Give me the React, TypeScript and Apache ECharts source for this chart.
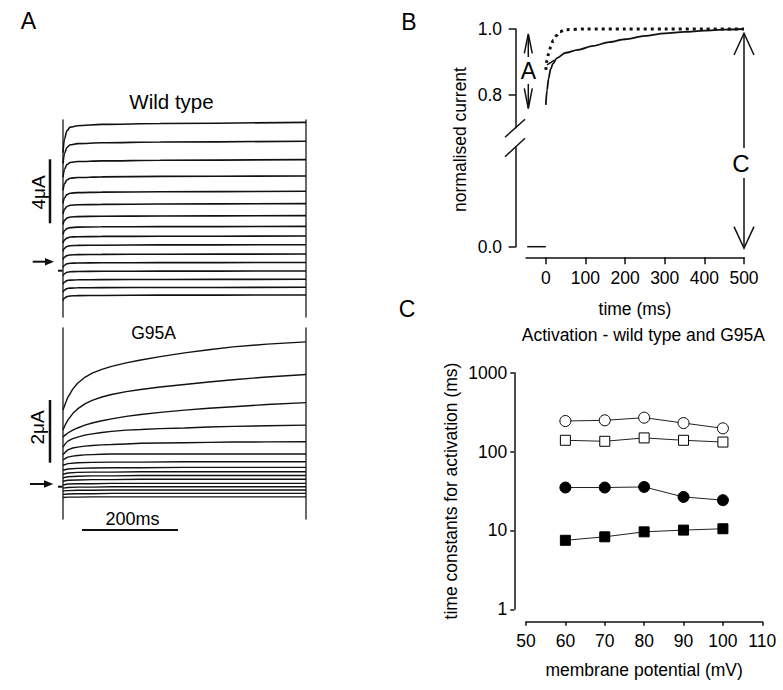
import React, { useEffect, useRef } from "react";
import * as echarts from "echarts";

// ---------- Panel A : current traces (µA) ----------
const WT_TIMES = [0, 3, 8, 15, 30, 80, 200, 500];
const WT_TRACES = [
  [6.86, 7.72, 8.23, 8.46, 8.55, 8.63, 8.69, 8.76],
  [6.18, 6.81, 7.19, 7.36, 7.43, 7.48, 7.53, 7.58],
  [5.33, 5.83, 6.12, 6.25, 6.31, 6.35, 6.39, 6.43],
  [4.51, 4.92, 5.16, 5.27, 5.31, 5.35, 5.38, 5.41],
  [3.7, 4.04, 4.24, 4.33, 4.37, 4.4, 4.42, 4.45],
  [3.03, 3.32, 3.5, 3.58, 3.61, 3.63, 3.66, 3.68],
  [2.38, 2.63, 2.78, 2.84, 2.87, 2.89, 2.91, 2.93],
  [1.76, 1.99, 2.12, 2.18, 2.21, 2.23, 2.24, 2.26],
  [1.21, 1.41, 1.53, 1.59, 1.61, 1.63, 1.64, 1.66],
  [0.71, 0.89, 1.0, 1.05, 1.07, 1.08, 1.1, 1.11],
  [0.18, 0.34, 0.43, 0.47, 0.49, 0.51, 0.52, 0.53],
  [-0.3, -0.17, -0.08, -0.05, -0.03, -0.02, -0.01, 0],
  [-0.83, -0.7, -0.61, -0.58, -0.56, -0.55, -0.54, -0.53],
  [-1.35, -1.22, -1.13, -1.1, -1.08, -1.07, -1.06, -1.05],
  [-1.85, -1.72, -1.63, -1.6, -1.58, -1.57, -1.56, -1.55],
  [-2.38, -2.22, -2.13, -2.09, -2.07, -2.06, -2.04, -2.03],
];

// G95A: traces that keep rising during the pulse
const G95A_TIMES_RISING = [0, 5, 10, 20, 30, 45, 60, 80, 100, 130, 160, 200, 250, 300, 350, 420, 500];
const G95A_RISING = [
  [2.36, 2.58, 2.77, 3.03, 3.22, 3.41, 3.54, 3.66, 3.76, 3.87, 3.96, 4.07, 4.19, 4.29, 4.38, 4.47, 4.54],
  [1.73, 1.9, 2.04, 2.25, 2.4, 2.56, 2.67, 2.78, 2.86, 2.95, 3.02, 3.1, 3.18, 3.26, 3.33, 3.42, 3.5],
  [1.5, 1.57, 1.63, 1.72, 1.79, 1.88, 1.95, 2.02, 2.08, 2.16, 2.22, 2.29, 2.36, 2.42, 2.47, 2.54, 2.6],
  [1.18, 1.29, 1.37, 1.45, 1.5, 1.56, 1.6, 1.645, 1.68, 1.72, 1.74, 1.77, 1.79, 1.82, 1.84, 1.86, 1.88],
  [0.93, 1.02, 1.09, 1.15, 1.18, 1.21, 1.23, 1.25, 1.26, 1.28, 1.3, 1.31, 1.32, 1.33, 1.34, 1.345, 1.35],
  [0.77, 0.82, 0.86, 0.89, 0.91, 0.93, 0.94, 0.95, 0.96, 0.96, 0.96, 0.96, 0.96, 0.96, 0.96, 0.96, 0.96],
];
// G95A: nearly flat traces
const G95A_TIMES_FLAT = [0, 10, 30, 60, 100, 160, 250, 350, 500];
const G95A_FLAT = [
  [0.6, 0.65, 0.68, 0.69, 0.7, 0.7, 0.71, 0.71, 0.71],
  [0.44, 0.48, 0.5, 0.51, 0.52, 0.52, 0.53, 0.53, 0.53],
  [0.31, 0.35, 0.37, 0.38, 0.38, 0.39, 0.39, 0.39, 0.39],
  [0.2, 0.23, 0.25, 0.26, 0.26, 0.27, 0.27, 0.27, 0.27],
  [0.09, 0.12, 0.13, 0.14, 0.14, 0.15, 0.15, 0.15, 0.15],
  [-0.03, 0.0, 0.01, 0.01, 0.02, 0.02, 0.02, 0.02, 0.02],
  [-0.13, -0.11, -0.1, -0.1, -0.09, -0.09, -0.09, -0.09, -0.09],
  [-0.22, -0.21, -0.2, -0.2, -0.19, -0.19, -0.19, -0.19, -0.19],
  [-0.33, -0.32, -0.31, -0.31, -0.3, -0.3, -0.3, -0.3, -0.3],
  [-0.43, -0.42, -0.42, -0.41, -0.41, -0.41, -0.41, -0.41, -0.41],
];

// ---------- Panel B : normalised current ----------
const DOT_T = [0, 3, 7, 12, 19, 27, 36, 50, 100, 200, 300, 400, 500];
const DOT_Y = [0.876, 0.905, 0.925, 0.945, 0.966, 0.98, 0.992, 0.998, 1.0, 1.0, 1.0, 1.0, 1.0];
const SOLID_T = [0, 3, 7, 12, 18, 28, 50, 80, 120, 160, 200, 250, 300, 350, 400, 450, 500];
const SOLID_Y = [0.77, 0.815, 0.85, 0.878, 0.895, 0.912, 0.928, 0.937, 0.949, 0.96, 0.969, 0.979, 0.987, 0.991, 0.995, 0.998, 1.0];
const HOOK_T = [3, 22];
const HOOK_Y = [0.891, 0.906];
const BASE_T = [-47, 0];
const BASE_Y = [0, 0];
const B_X_TICKS = [0, 100, 200, 300, 400, 500];
const B_Y_TICKS_UPPER = [0.8, 1.0];
const B_Y_TICKS_LOWER = [0];

// ---------- Panel C : time constants (ms) ----------
const VOLTAGES = [60, 70, 80, 90, 100];
const OPEN_CIRCLE = [244, 249, 269, 230, 197];
const OPEN_SQUARE = [139, 135, 149, 139, 132];
const FILLED_CIRCLE = [35, 35, 35.6, 26.6, 24.2];
const FILLED_SQUARE = [7.5, 8.3, 9.6, 10.1, 10.5];

const FONT = '"Liberation Sans", Arial, Helvetica, sans-serif';
const INK = "#111";

function txt(text: string, x: number, y: number, size: number, rotation = 0) {
  return {
    type: "text",
    x,
    y,
    rotation,
    silent: true,
    style: {
      text,
      fontSize: size,
      fontFamily: FONT,
      fill: "#000",
      align: "center",
      verticalAlign: "middle",
    },
  };
}
function ln(x1: number, y1: number, x2: number, y2: number, w = 1.5) {
  return { type: "line", silent: true, shape: { x1, y1, x2, y2 }, style: { stroke: INK, lineWidth: w } };
}
function pl(points: number[][], w = 1.5) {
  return { type: "polyline", silent: true, shape: { points }, style: { stroke: INK, lineWidth: w, fill: null } };
}
function pg(points: number[][]) {
  return { type: "polygon", silent: true, shape: { points }, style: { fill: INK } };
}

export default function App() {
  const ref = useRef<HTMLDivElement>(null);

  useEffect(() => {
    document.body.style.margin = "0";
    if (!ref.current) return;
    const chart = echarts.init(ref.current, undefined, { renderer: "svg", width: 783, height: 690 });

    const hidden = { show: false };
    const traceSeries = (traces: number[][], times: number[], xi: number, yi: number, w: number, smooth: any) =>
      traces.map((tr) => ({
        type: "line",
        xAxisIndex: xi,
        yAxisIndex: yi,
        data: times.map((t, i) => [t, tr[i]]),
        showSymbol: false,
        symbol: "none",
        smooth,
        smoothMonotone: "x",
        clip: false,
        silent: true,
        lineStyle: { color: INK, width: w },
      }));

    const frameY = (grid: number, min: number, max: number, position: string) => ({
      type: "value",
      gridIndex: grid,
      position,
      min,
      max,
      axisLine: { show: true, onZero: false, lineStyle: { color: "#444", width: 1.6 } },
      axisTick: hidden,
      axisLabel: hidden,
      splitLine: hidden,
    });

    const labelStyle = { color: "#000", fontSize: 17.5, fontFamily: FONT };
    const axisLineStyle = { show: true, onZero: false, lineStyle: { color: INK, width: 1.5 } };

    const pts = (xs: number[], ys: number[]) => xs.map((x, i) => [x, ys[i]]);

    const cSeries = (data: number[], symbol: string, size: number, filled: boolean) => ({
      type: "line",
      xAxisIndex: 4,
      yAxisIndex: 6,
      data: pts(VOLTAGES, data),
      symbol,
      symbolSize: size,
      showSymbol: true,
      silent: true,
      lineStyle: { color: "#222", width: 1 },
      itemStyle: { color: filled ? "#000" : "#fff", borderColor: "#000", borderWidth: 1 },
    });

    const option: any = {
      animation: false,
      backgroundColor: "#fff",
      textStyle: { fontFamily: FONT },
      grid: [
        { left: 63, top: 120, width: 243, height: 197, outerBoundsMode: "none" },
        { left: 63, top: 328, width: 243, height: 191, outerBoundsMode: "none" },
        { left: 526, top: 29, width: 218, height: 98.7, outerBoundsMode: "none" },
        { left: 526, top: 146.8, width: 218, height: 99.9, outerBoundsMode: "none" },
        { left: 526, top: 372.7, width: 236.3, height: 236.6, outerBoundsMode: "none" },
      ],
      xAxis: [
        { type: "value", gridIndex: 0, min: 0, max: 500, show: false },
        { type: "value", gridIndex: 1, min: 0, max: 500, show: false },
        { type: "value", gridIndex: 2, min: -50, max: 500, show: false },
        {
          type: "value",
          gridIndex: 3,
          min: -50,
          max: 500,
          offset: 10.6,
          axisLine: axisLineStyle,
          axisTick: { show: true, length: 7, customValues: B_X_TICKS, lineStyle: { color: INK, width: 1.5 } },
          axisLabel: { show: true, customValues: B_X_TICKS, margin: 12, ...labelStyle },
          splitLine: hidden,
          name: "time (ms)",
          nameLocation: "middle",
          nameGap: 43,
          nameTextStyle: labelStyle,
        },
        {
          type: "value",
          gridIndex: 4,
          min: 50,
          max: 110,
          interval: 10,
          offset: 12.4,
          axisLine: axisLineStyle,
          axisTick: { show: true, length: 4, lineStyle: { color: INK, width: 1.5 } },
          axisLabel: { show: true, margin: 10, ...labelStyle },
          splitLine: hidden,
          name: "membrane potential (mV)",
          nameLocation: "middle",
          nameGap: 39.5,
          nameTextStyle: labelStyle,
        },
      ],
      yAxis: [
        frameY(0, -3.406, 8.906, "left"),
        frameY(0, -3.406, 8.906, "right"),
        frameY(1, -1.118, 4.984, "left"),
        frameY(1, -1.118, 4.984, "right"),
        {
          type: "value",
          gridIndex: 2,
          min: 0.701,
          max: 1.0,
          offset: 10.3,
          axisLine: axisLineStyle,
          axisTick: { show: true, length: 7, customValues: B_Y_TICKS_UPPER, lineStyle: { color: INK, width: 1.5 } },
          axisLabel: {
            show: true,
            customValues: B_Y_TICKS_UPPER,
            margin: 13.7,
            formatter: (v: number) => v.toFixed(1),
            ...labelStyle,
          },
          splitLine: hidden,
        },
        {
          type: "value",
          gridIndex: 3,
          min: 0,
          max: 0.3027,
          offset: 10.3,
          axisLine: axisLineStyle,
          axisTick: { show: true, length: 7, customValues: B_Y_TICKS_LOWER, lineStyle: { color: INK, width: 1.5 } },
          axisLabel: {
            show: true,
            customValues: B_Y_TICKS_LOWER,
            margin: 13.7,
            formatter: (v: number) => v.toFixed(1),
            ...labelStyle,
          },
          splitLine: hidden,
        },
        {
          type: "log",
          logBase: 10,
          gridIndex: 4,
          min: 1,
          max: 1000,
          offset: 11.7,
          axisLine: axisLineStyle,
          axisTick: { show: true, length: 4, lineStyle: { color: INK, width: 1.5 } },
          axisLabel: { show: true, margin: 7, formatter: (v: number) => String(Math.round(v)), ...labelStyle },
          splitLine: hidden,
          minorTick: hidden,
          name: "time constants for activation (ms)",
          nameLocation: "middle",
          nameGap: 54.5,
          nameTextStyle: labelStyle,
        },
      ],
      series: [
        ...traceSeries(WT_TRACES, WT_TIMES, 0, 0, 1.6, 0.35),
        ...traceSeries(G95A_RISING, G95A_TIMES_RISING, 1, 2, 1.4, false),
        ...traceSeries(G95A_FLAT, G95A_TIMES_FLAT, 1, 2, 1.4, false),
        {
          type: "line",
          xAxisIndex: 2,
          yAxisIndex: 4,
          data: pts(DOT_T, DOT_Y),
          showSymbol: false,
          symbol: "none",
          smooth: 0.3,
          smoothMonotone: "x",
          clip: false,
          silent: true,
          lineStyle: { color: INK, width: 3, type: [3, 4] },
        },
        {
          type: "line",
          xAxisIndex: 2,
          yAxisIndex: 4,
          data: pts(SOLID_T, SOLID_Y),
          showSymbol: false,
          symbol: "none",
          smooth: 0.3,
          smoothMonotone: "x",
          clip: false,
          silent: true,
          lineStyle: { color: INK, width: 1.8 },
        },
        {
          type: "line",
          xAxisIndex: 2,
          yAxisIndex: 4,
          data: pts(HOOK_T, HOOK_Y),
          showSymbol: false,
          symbol: "none",
          clip: false,
          silent: true,
          lineStyle: { color: INK, width: 1.5 },
        },
        {
          type: "line",
          xAxisIndex: 3,
          yAxisIndex: 5,
          data: pts(BASE_T, BASE_Y),
          showSymbol: false,
          symbol: "none",
          clip: false,
          silent: true,
          lineStyle: { color: INK, width: 1.5 },
        },
        cSeries(OPEN_CIRCLE, "circle", 11, false),
        cSeries(OPEN_SQUARE, "rect", 10, false),
        cSeries(FILLED_CIRCLE, "circle", 11, true),
        cSeries(FILLED_SQUARE, "rect", 10, true),
      ],
      graphic: [
        // panel letters
        txt("A", 28.5, 21, 23),
        txt("B", 409, 22, 23),
        txt("C", 407, 309, 23),
        // panel A titles & scale bars
        txt("Wild type", 171.5, 101.5, 20.5),
        txt("G95A", 153.5, 332.5, 17.5),
        txt("200ms", 132.5, 518.5, 18),
        ln(82, 530, 178, 530, 2),
        txt("4\u03bcA", 38, 192.5, 19, Math.PI / 2),
        ln(50, 159.3, 50, 223.3, 2.5),
        txt("2\u03bcA", 37.7, 427.5, 19, Math.PI / 2),
        ln(50, 400, 50, 462.7, 2.5),
        // arrows
        ln(32.7, 261.7, 47, 261.7, 2),
        pg([[45, 258], [54, 261.7], [45, 265.4]]),
        ln(30, 484, 45, 484, 2),
        pg([[44, 480.3], [53.3, 484], [44, 487.7]]),
        ln(58, 270.7, 63, 270.7, 2),
        ln(58, 486.7, 63, 486.7, 2),
        // panel B axis break
        ln(505, 137.3, 525, 119.3, 1.5),
        ln(505, 156.7, 525, 138.3, 1.5),
        txt("normalised current", 460.3, 139.5, 17.5, Math.PI / 2),
        // "A" double arrow
        ln(528.3, 34.5, 528.3, 57, 1.5),
        pl([[524.3, 53.3], [528.3, 34], [532.3, 53.3]], 1.5),
        txt("A", 528.3, 70.5, 23),
        ln(528.3, 84, 528.3, 108, 1.5),
        pl([[524.3, 88.3], [528.3, 108.5], [532.3, 88.3]], 1.5),
        // "C" double arrow
        ln(744, 33.5, 744, 148, 1.5),
        pl([[734, 55], [744, 33.3], [754, 55]], 1.5),
        txt("C", 741, 163, 24),
        ln(744, 178, 744, 248, 1.5),
        pl([[734, 226.6], [744, 248.3], [754, 226.6]], 1.5),
        // panel C title
        txt("Activation - wild type and G95A", 643.3, 335, 17.5),
      ],
    };

    chart.setOption(option);
    return () => chart.dispose();
  }, []);

  return (
    <div
      ref={ref}
      style={{ position: "absolute", left: 0, top: 0, width: 783, height: 690, background: "#fff" }}
    />
  );
}
